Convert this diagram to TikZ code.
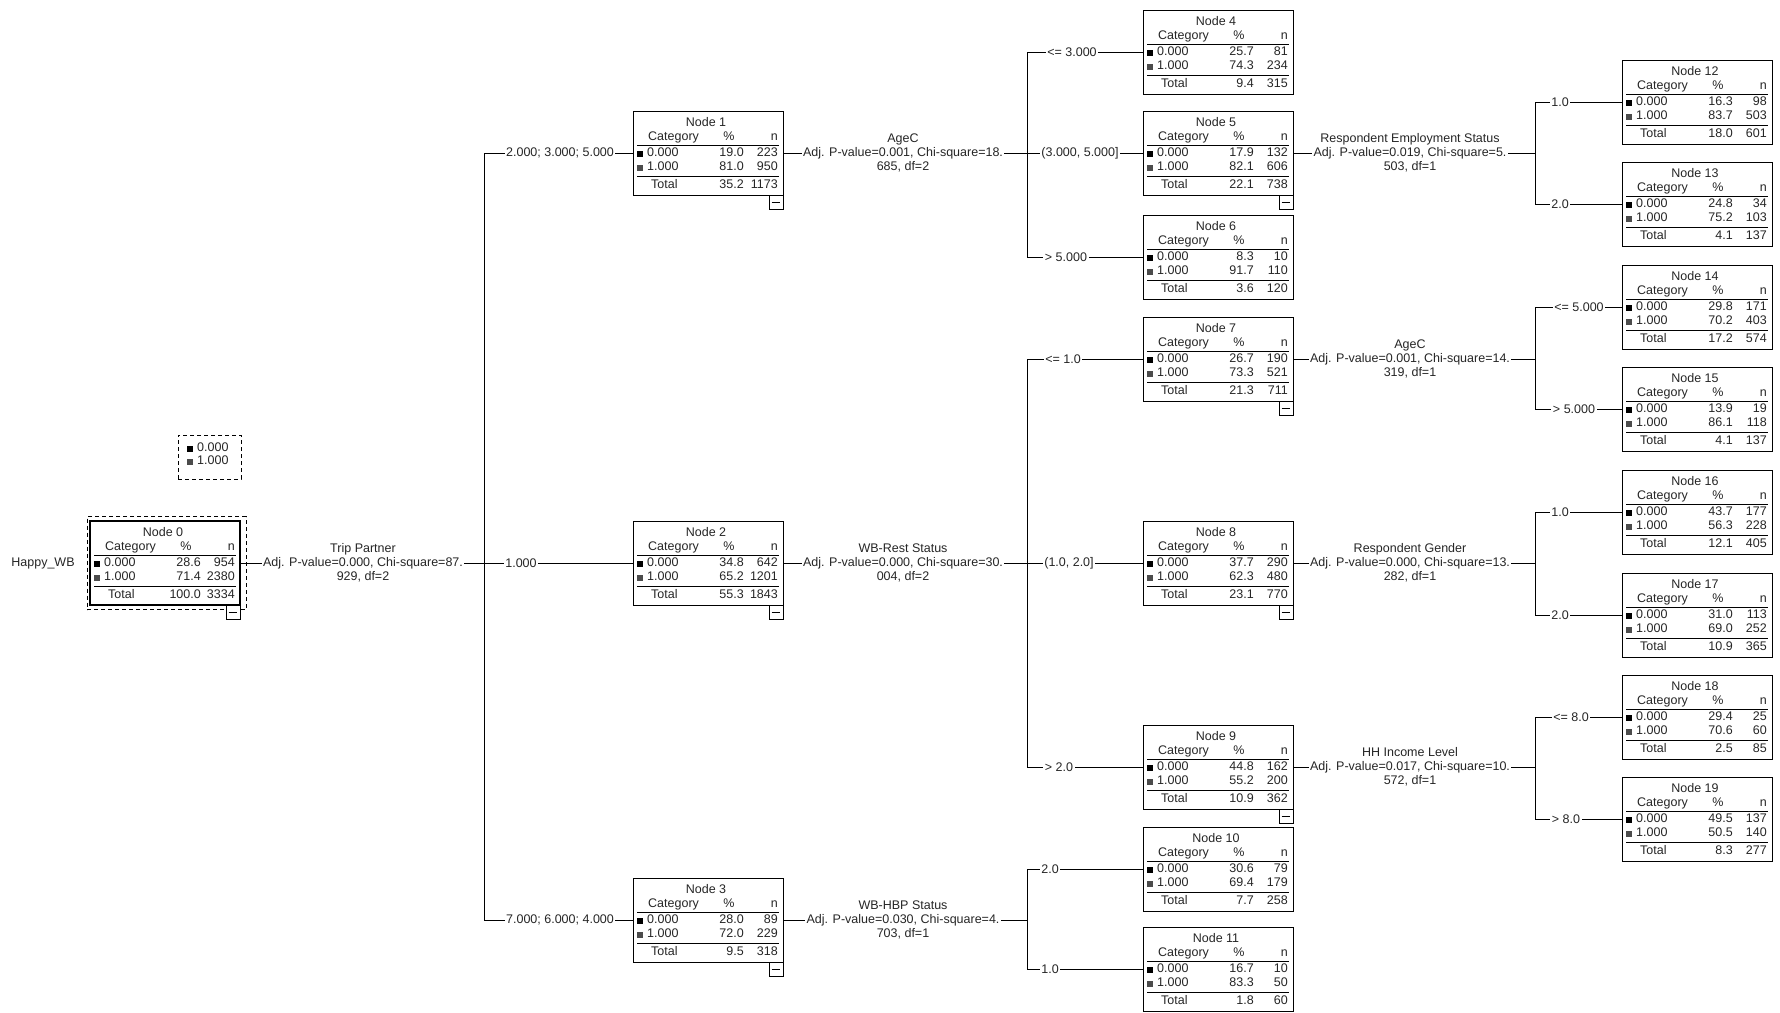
\documentclass[tikz,border=0pt]{standalone}
\usepackage{fontspec}
\setmainfont{Liberation Sans}
\tikzset{
  every node/.style={font=\fontsize{12.5}{14}\selectfont, text=black!85},
  tb/.style={draw, rectangle, minimum width=150pt, minimum height=84pt, inner sep=0pt, fill=white, line width=0.8pt},
  tx/.style={inner sep=0pt},
  lab/.style={fill=white, inner sep=1.5pt, align=center},
  conn/.style={line width=0.8pt},
  dsh/.style={draw, dash pattern=on 4pt off 3pt, line width=0.8pt, inner sep=0pt},
}
\newcommand\tbox[9]{%
  \node[tb] (n#1) at (#2+75,#3+42) {};
  \node[tx] (n#1a) at (#2+73,#3+11) {Node #1};
  \node[tx,anchor=mid west] (n#1b) at (#2+15,#3+27) {Category};
  \node[tx,anchor=mid] (n#1c) at (#2+96,#3+27) {\%};
  \node[tx,anchor=mid east] (n#1d) at (#2+145,#3+27) {n};
  \draw[line width=0.8pt] (#2+4,#3+34) -- (#2+146,#3+34);
  \fill (#2+4,#3+40) rectangle (#2+10,#3+46);
  \node[tx,anchor=mid west] (n#1e) at (#2+14,#3+43) {0.000};
  \node[tx,anchor=mid east] (n#1f) at (#2+111,#3+43) {#4};
  \node[tx,anchor=mid east] (n#1g) at (#2+145,#3+43) {#5};
  \fill[black!70] (#2+4,#3+54) rectangle (#2+10,#3+60);
  \node[tx,anchor=mid west] (n#1h) at (#2+14,#3+57) {1.000};
  \node[tx,anchor=mid east] (n#1i) at (#2+111,#3+57) {#6};
  \node[tx,anchor=mid east] (n#1j) at (#2+145,#3+57) {#7};
  \draw[line width=0.8pt] (#2+4,#3+65) -- (#2+146,#3+65);
  \node[tx,anchor=mid west] (n#1k) at (#2+18,#3+75) {Total};
  \node[tx,anchor=mid east] (n#1l) at (#2+111,#3+75) {#8};
  \node[tx,anchor=mid east] (n#1m) at (#2+145,#3+75) {#9};
}
\newcommand\minusb[1]{%
  \node[draw, line width=0.8pt, minimum width=14pt, minimum height=14pt, inner sep=0pt, anchor=north east, fill=white] (m#1) at (n#1.south east) {};
  \draw[line width=0.8pt] ([xshift=3pt]m#1.west) -- ([xshift=-3pt]m#1.east);
}
\begin{document}
\begin{tikzpicture}[x=1pt,y=-1pt]
\fill[white] (0,0) rectangle (1780,1012);
\useasboundingbox (0,0) rectangle (1780,1012);

% trunk coordinates
\coordinate (tA) at (484,563);
\coordinate (tB) at (1027,153);
\coordinate (tC) at (1027,563);
\coordinate (tD) at (1027,920);
\coordinate (tE) at (1535,153);
\coordinate (tF) at (1535,359);
\coordinate (tG) at (1535,563);
\coordinate (tH) at (1535,767);

% boxes
\node[dsh, minimum width=159pt, minimum height=93pt] (sel) at (166.5,563) {};
\tbox{0}{90}{521}{28.6}{954}{71.4}{2380}{100.0}{3334}
\draw[line width=2pt] (n0.south west) rectangle (n0.north east);
\tbox{1}{633}{111}{19.0}{223}{81.0}{950}{35.2}{1173}
\tbox{2}{633}{521}{34.8}{642}{65.2}{1201}{55.3}{1843}
\tbox{3}{633}{878}{28.0}{89}{72.0}{229}{9.5}{318}
\tbox{4}{1143}{10}{25.7}{81}{74.3}{234}{9.4}{315}
\tbox{5}{1143}{111}{17.9}{132}{82.1}{606}{22.1}{738}
\tbox{6}{1143}{215}{8.3}{10}{91.7}{110}{3.6}{120}
\tbox{7}{1143}{317}{26.7}{190}{73.3}{521}{21.3}{711}
\tbox{8}{1143}{521}{37.7}{290}{62.3}{480}{23.1}{770}
\tbox{9}{1143}{725}{44.8}{162}{55.2}{200}{10.9}{362}
\tbox{10}{1143}{827}{30.6}{79}{69.4}{179}{7.7}{258}
\tbox{11}{1143}{927}{16.7}{10}{83.3}{50}{1.8}{60}
\tbox{12}{1622}{60}{16.3}{98}{83.7}{503}{18.0}{601}
\tbox{13}{1622}{162}{24.8}{34}{75.2}{103}{4.1}{137}
\tbox{14}{1622}{265}{29.8}{171}{70.2}{403}{17.2}{574}
\tbox{15}{1622}{367}{13.9}{19}{86.1}{118}{4.1}{137}
\tbox{16}{1622}{470}{43.7}{177}{56.3}{228}{12.1}{405}
\tbox{17}{1622}{573}{31.0}{113}{69.0}{252}{10.9}{365}
\tbox{18}{1622}{675}{29.4}{25}{70.6}{60}{2.5}{85}
\tbox{19}{1622}{777}{49.5}{137}{50.5}{140}{8.3}{277}

\minusb{0}\minusb{1}\minusb{2}\minusb{3}\minusb{5}\minusb{7}\minusb{8}\minusb{9}

% connectors
\draw[conn] (n0.east) -- (tA);
\draw[conn] (tA) |- (n1.west);
\draw[conn] (tA) |- (n2.west);
\draw[conn] (tA) |- (n3.west);
\draw[conn] (n1.east) -- (tB);
\draw[conn] (tB) |- (n4.west);
\draw[conn] (tB) |- (n5.west);
\draw[conn] (tB) |- (n6.west);
\draw[conn] (n2.east) -- (tC);
\draw[conn] (tC) |- (n7.west);
\draw[conn] (tC) |- (n8.west);
\draw[conn] (tC) |- (n9.west);
\draw[conn] (n3.east) -- (tD);
\draw[conn] (tD) |- (n10.west);
\draw[conn] (tD) |- (n11.west);
\draw[conn] (n5.east) -- (tE);
\draw[conn] (tE) |- (n12.west);
\draw[conn] (tE) |- (n13.west);
\draw[conn] (n7.east) -- (tF);
\draw[conn] (tF) |- (n14.west);
\draw[conn] (tF) |- (n15.west);
\draw[conn] (n8.east) -- (tG);
\draw[conn] (tG) |- (n16.west);
\draw[conn] (tG) |- (n17.west);
\draw[conn] (n9.east) -- (tH);
\draw[conn] (tH) |- (n18.west);
\draw[conn] (tH) |- (n19.west);

% split labels
\node[lab] (s0) at (363,563) {Trip Partner\\Adj. P-value=0.000, Chi-square=87.\\929, df=2};
\node[lab] (s1) at (903,153) {AgeC\\Adj. P-value=0.001, Chi-square=18.\\685, df=2};
\node[lab] (s2) at (903,563) {WB-Rest Status\\Adj. P-value=0.000, Chi-square=30.\\004, df=2};
\node[lab] (s3) at (903,920) {WB-HBP Status\\Adj. P-value=0.030, Chi-square=4.\\703, df=1};
\node[lab] (s5) at (1410,153) {Respondent Employment Status\\Adj. P-value=0.019, Chi-square=5.\\503, df=1};
\node[lab] (s7) at (1410,359) {AgeC\\Adj. P-value=0.001, Chi-square=14.\\319, df=1};
\node[lab] (s8) at (1410,563) {Respondent Gender\\Adj. P-value=0.000, Chi-square=13.\\282, df=1};
\node[lab] (s9) at (1410,767) {HH Income Level\\Adj. P-value=0.017, Chi-square=10.\\572, df=1};

% branch labels
\node[lab] (b1) at (560,153) {2.000; 3.000; 5.000};
\node[lab] (b2) at (521,563) {1.000};
\node[lab] (b3) at (560,920) {7.000; 6.000; 4.000};
\node[lab] (b4) at (1072,52) {<= 3.000};
\node[lab] (b5) at (1080,153) {(3.000, 5.000]};
\node[lab] (b6) at (1066,257) {> 5.000};
\node[lab] (b7) at (1063,359) {<= 1.0};
\node[lab] (b8) at (1069,563) {(1.0, 2.0]};
\node[lab] (b9) at (1059,767) {> 2.0};
\node[lab] (b10) at (1050,869) {2.0};
\node[lab] (b11) at (1050,969) {1.0};
\node[lab] (b12) at (1560,102) {1.0};
\node[lab] (b13) at (1560,204) {2.0};
\node[lab] (b14) at (1579,307) {<= 5.000};
\node[lab] (b15) at (1574,409) {> 5.000};
\node[lab] (b16) at (1560,512) {1.0};
\node[lab] (b17) at (1560,615) {2.0};
\node[lab] (b18) at (1571,717) {<= 8.0};
\node[lab] (b19) at (1566,819) {> 8.0};

% dependent variable and legend
\node (dep) at (43,563) {Happy\_WB};
\node[dsh, minimum width=63pt, minimum height=44pt] (leg) at (209.5,457) {};
\fill (187,446) rectangle (193,452);
\node[tx,anchor=mid west] (leg0) at (197,449) {0.000};
\fill[black!70] (187,459) rectangle (193,465);
\node[tx,anchor=mid west] (leg1) at (197,462) {1.000};
\end{tikzpicture}
\end{document}
